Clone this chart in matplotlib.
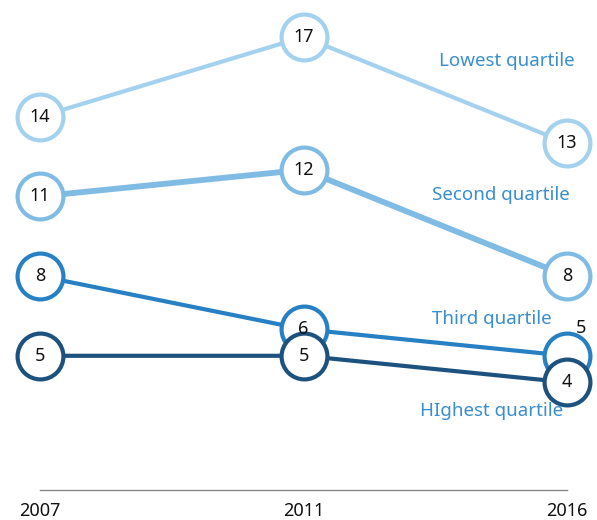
import matplotlib.pyplot as plt

plt.rcParams['font.family'] = ['Noto Sans', 'DejaVu Sans']

# Данные
years = ['2007', '2011', '2016']
lowest = [14, 17, 13]
second = [11, 12, 8]
third = [8, 6, 5]
highest = [5, 5, 4]

series = [
    ('Lowest quartile', lowest, '#a4d1ee', 3.0),
    ('Second quartile', second, '#80bbe4', 4.2),
    ('Third quartile', third, '#2880c4', 3.0),
    ('HIghest quartile', highest, '#1d527f', 3.0),
]
label_pos = {
    'Lowest quartile': (1.77, 16.1),
    'Second quartile': (1.75, 11.05),
    'Third quartile': (1.715, 6.38),
    'HIghest quartile': (1.715, 2.92),
}
label_color = '#3a8ecf'

fig = plt.figure(figsize=(5.97, 5.20), dpi=100)
ax = fig.add_axes([0, 0, 1, 1])
ax.set_xlim(-0.152, 2.114)
ax.set_ylim(-1.18, 18.39)
ax.axis('off')

x = list(range(len(years)))

# Линии
for name, vals, color, lw in series:
    ax.plot(x, vals, color=color, lw=lw, solid_capstyle='butt', zorder=2)

# Кружки с подписями (цифры поверх всех кружков)
for i, (name, vals, color, lw) in enumerate(series):
    ax.plot(x, vals, 'o', ms=33, mfc='white', mec=color, mew=3.0, zorder=3 + i)
    for xi, v in zip(x, vals):
        if name == 'Third quartile' and xi == 2:
            # кружок перекрыт, подпись выносим наружу
            ax.text(xi + 0.055, v + 1.05, str(v), ha='center', va='center',
                    fontsize=13, color='#111111', zorder=10)
        else:
            ax.text(xi, v, str(v), ha='center', va='center', fontsize=13,
                    color='#111111', zorder=10)
    lx, ly = label_pos[name]
    ax.text(lx, ly, name, ha='center', va='center', fontsize=13.5,
            color=label_color)

# Ось
ax.plot([0, 2], [-0.05, -0.05], color='#888888', lw=1)
for xi, yr in zip(x, years):
    ax.text(xi, -0.85, yr, ha='center', va='center', fontsize=13,
            color='#111111')

fig.savefig('out.png', dpi=100)
